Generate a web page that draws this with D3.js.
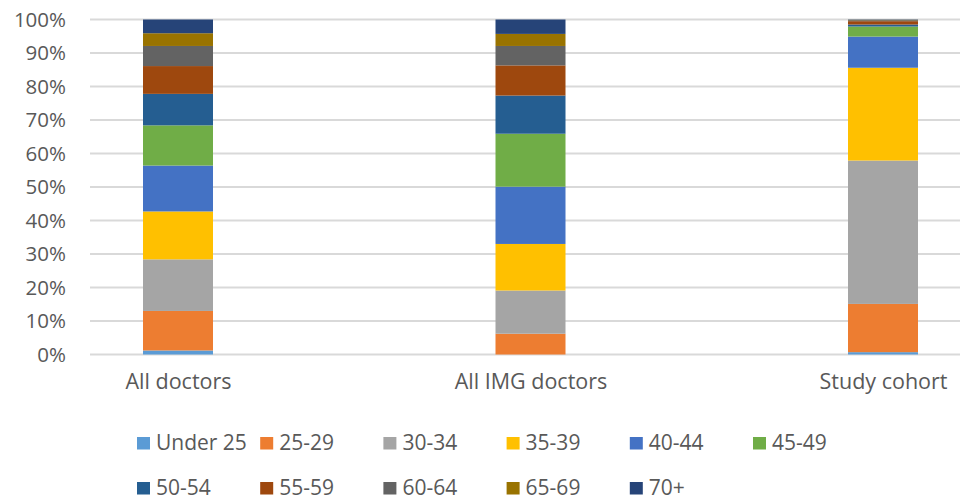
<!DOCTYPE html>
<html>
<head>
<meta charset="utf-8">
<script src="https://cdn.jsdelivr.net/npm/d3@7"></script>
<style>
  html, body { margin: 0; padding: 0; background: #fff; }
  svg { display: block; }
  text { font-family: "Open Sans", "Liberation Sans", sans-serif; fill: #595959; }
</style>
</head>
<body>
<svg id="chart" width="960" height="501"></svg>
<script>
// Age-group distribution (% of each group)
const categories = ["All doctors", "All IMG doctors", "Study cohort"];
const ageGroups = ["Under 25", "25-29", "30-34", "35-39", "40-44", "45-49",
                   "50-54", "55-59", "60-64", "65-69", "70+"];
const allDoctors   = [1.2, 11.8, 15.4, 14.3, 13.7, 12.0, 9.4, 8.3, 6.0, 3.8, 4.1];
const allImgDoctors = [0.0, 6.2, 12.9, 13.9, 17.1, 15.8, 11.4, 9.0, 5.8, 3.6, 4.3];
const studyCohort  = [0.7, 14.4, 42.8, 27.7, 9.3, 3.0, 0.6, 1.0, 0.3, 0.1, 0.1];
const yTicks = [0, 10, 20, 30, 40, 50, 60, 70, 80, 90, 100];
const colors = ["#5B9BD5", "#ED7D31", "#A5A5A5", "#FFC000", "#4472C4", "#70AD47",
                "#255E91", "#9E480E", "#636363", "#997300", "#264478"];

const seriesValues = [allDoctors, allImgDoctors, studyCohort];
const table = categories.map((c, i) => {
  const row = { category: c };
  ageGroups.forEach((g, j) => { row[g] = seriesValues[i][j]; });
  return row;
});

const svg = d3.select("#chart");

const x = d3.scalePoint().domain(categories).range([178, 883]);
const barWidth = 70;
const y = d3.scaleLinear().domain([0, 100]).range([354.5, 19.5]);
const color = d3.scaleOrdinal().domain(ageGroups).range(colors);

// Horizontal gridlines
svg.append("g")
  .selectAll("line")
  .data(yTicks)
  .join("line")
  .attr("x1", 90).attr("x2", 960)
  .attr("y1", d => y(d)).attr("y2", d => y(d))
  .attr("stroke", "#D9D9D9")
  .attr("stroke-width", 2);

// Y axis labels
const yAxis = d3.axisLeft(y).tickValues(yTicks).tickFormat(d => d + "%").tickSize(0).tickPadding(0);
const yG = svg.append("g").attr("transform", "translate(66,0)").call(yAxis);
yG.select(".domain").remove();
yG.selectAll("text").attr("font-size", 20.5).attr("fill", "#595959")
  .attr("font-family", "'Open Sans', sans-serif");

// Stacked bars
const stacked = d3.stack().keys(ageGroups)(table);
svg.append("g")
  .selectAll("g")
  .data(stacked)
  .join("g")
  .attr("fill", d => color(d.key))
  .selectAll("rect")
  .data(d => d)
  .join("rect")
  .attr("x", d => x(d.data.category) - barWidth / 2)
  .attr("width", barWidth)
  .attr("y", d => y(d[1]))
  .attr("height", d => y(d[0]) - y(d[1]));

// Category labels
const xAxis = d3.axisBottom(x).tickSize(0).tickPadding(0);
const xG = svg.append("g").attr("transform", "translate(0,374)").call(xAxis);
xG.select(".domain").remove();
xG.selectAll("text").attr("font-size", 21.5).attr("fill", "#595959")
  .attr("font-family", "'Open Sans', sans-serif");

// Legend: two rows of entries
const legendCols = 6;
const legend = svg.append("g");
const item = legend.selectAll("g")
  .data(ageGroups)
  .join("g")
  .attr("transform", (d, i) => {
    const col = i % legendCols, row = Math.floor(i / legendCols);
    return `translate(${137 + col * 123.2},${443 + row * 45})`;
  });
item.append("rect")
  .attr("x", 0).attr("y", -6)
  .attr("width", 13).attr("height", 12.5)
  .attr("fill", d => color(d));
item.append("text")
  .attr("x", 19).attr("y", 0)
  .attr("dy", "0.35em")
  .attr("font-size", 21)
  .text(d => d);
</script>
</body>
</html>
